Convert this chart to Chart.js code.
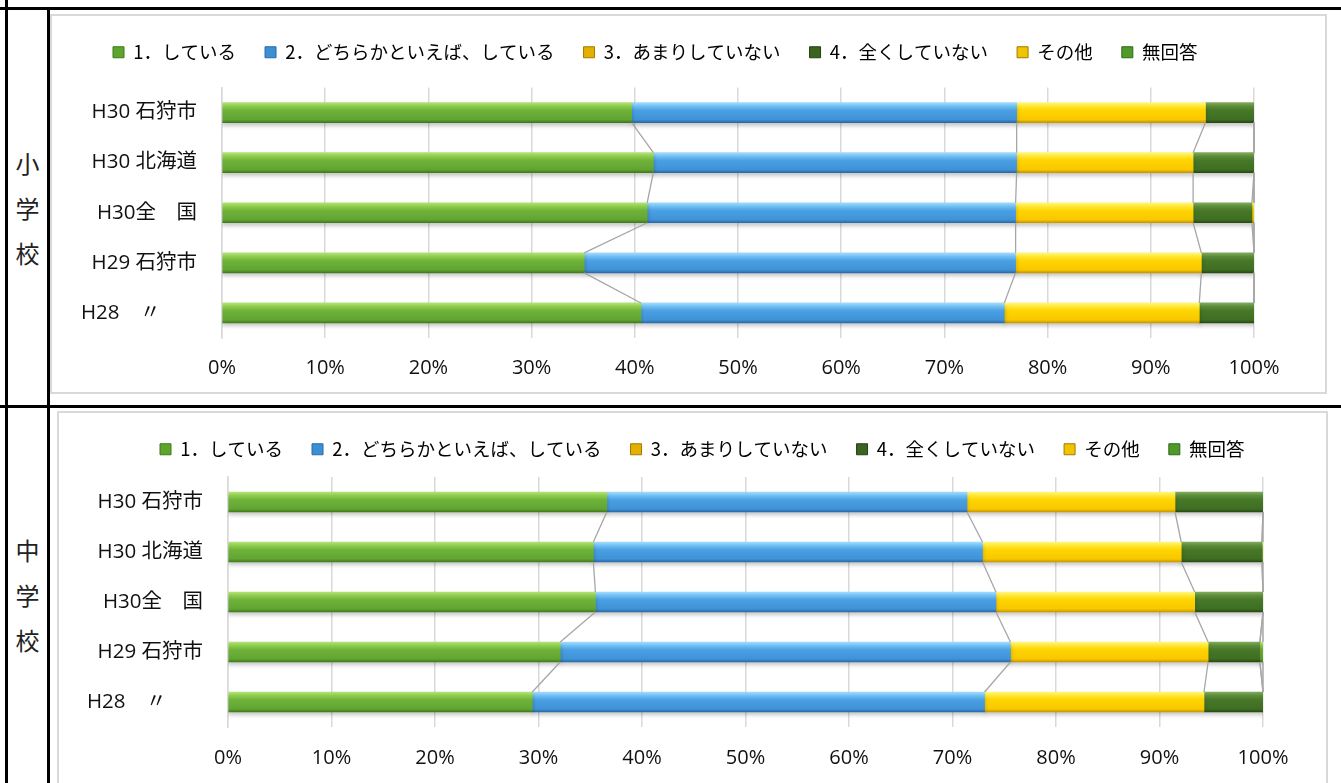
<!DOCTYPE html>
<html lang="ja">
<head>
<meta charset="utf-8">
<title>しているか</title>
<script src="https://cdn.jsdelivr.net/npm/chart.js@4.4.1/dist/chart.umd.min.js"></script>
<style>
  body { margin: 0; width: 1341px; height: 783px; overflow: hidden; background: #fff; position: relative;
         font-family: "Noto Sans CJK JP", sans-serif; }
  .line { position: absolute; background: #000; }
  .box { position: absolute; border: 2px solid #d9d9d9; box-sizing: border-box; }
  canvas { position: absolute; }
  .side { position: absolute; left: 8px; width: 39px; text-align: center; font-size: 24px; line-height: 45px; color: #222; }
</style>
</head>
<body>
<div class="line" style="left:0;top:7px;width:1341px;height:3px"></div>
<div class="line" style="left:0;top:405px;width:1341px;height:3px"></div>
<div class="line" style="left:5px;top:0;width:3px;height:783px"></div>
<div class="line" style="left:47px;top:8px;width:3px;height:775px"></div>

<div class="side" style="top:140px">小<br>学<br>校</div>
<div class="side" style="top:527px">中<br>学<br>校</div>

<div class="box" style="left:50px;top:14px;width:1277px;height:380px"></div>
<canvas id="shoChart" width="1278" height="385" style="left:49px;top:14px"></canvas>
<div class="box" style="left:57px;top:411px;width:1271px;height:380px"></div>
<canvas id="chuChart" width="1271" height="378" style="left:57px;top:411px"></canvas>

<script>
// 凡例
const seriesNames = ['1．している', '2．どちらかといえば、している', '3．あまりしていない', '4．全くしていない', 'その他', '無回答'];
// 縦軸
const rowLabels = ['H30 石狩市', 'H30 北海道', 'H30全　国', 'H29 石狩市', 'H28　〃　   '];

// 小学校 (%)
const shoShiteiru  = [39.7, 41.8, 41.2, 35.1, 40.6];
const shoDochiraka = [37.3, 35.2, 35.7, 41.8, 35.2];
const shoAmari     = [18.3, 17.1, 17.2, 18.0, 18.9];
const shoMattaku   = [4.7, 5.9, 5.7, 5.1, 5.3];
const shoSonota    = [0, 0, 0.2, 0, 0];
const shoMukaito   = [0, 0, 0, 0, 0];

// 中学校 (%)
const chuShiteiru  = [36.6, 35.3, 35.5, 32.1, 29.4];
const chuDochiraka = [34.8, 37.6, 38.7, 43.5, 43.7];
const chuAmari     = [20.1, 19.2, 19.2, 19.1, 21.2];
const chuMattaku   = [8.5, 7.8, 6.6, 5.0, 5.7];
const chuSonota    = [0, 0, 0, 0, 0];
const chuMukaito   = [0, 0.1, 0, 0.3, 0];

// 横軸
const xMin = 0, xMax = 100, xStep = 10;

// bar colours: top highlight, light, base, base, bottom edge
const bevels = [
  ['#b2e27a', '#8ecc4c', '#6eb23a', '#62a432', '#3f7a1c'],
  ['#a2dbfd', '#70bff4', '#4a9fe3', '#3f92d6', '#2a6aa8'],
  ['#fff680', '#ffe733', '#ffd400', '#f8c800', '#c99500'],
  ['#80ab5c', '#5c8c3a', '#467828', '#3f6e22', '#274a12'],
  ['#fff680', '#ffe733', '#ffd400', '#f8c800', '#c99500'],
  ['#b2e27a', '#8ecc4c', '#6eb23a', '#62a432', '#3f7a1c']
];
const legendFill = ['#5ea52e', '#3d8fd4', '#e4b000', '#3a6420', '#f0c400', '#4f9a2a'];
const legendEdge = ['#3d7a1a', '#2a6aa8', '#a07a00', '#243f12', '#a07a00', '#2f6a14'];
const labelFont = '"Open Sans", "Noto Sans CJK JP", sans-serif';

function bevelFill(stops) {
  return function (ctx) {
    const chart = ctx.chart;
    const ys = chart.scales.y;
    if (ctx.type !== 'data' || !chart.chartArea || !ys) return stops[2];
    const c = ys.getPixelForValue(ctx.dataIndex);
    const g = chart.ctx.createLinearGradient(0, c - 10, 0, c + 10);
    g.addColorStop(0, stops[0]);
    g.addColorStop(0.18, stops[1]);
    g.addColorStop(0.4, stops[2]);
    g.addColorStop(0.85, stops[3]);
    g.addColorStop(1, stops[4]);
    return g;
  };
}

// legend gap/shift + bar shadow + series lines
const barDecor = {
  id: 'barDecor',
  beforeLayout(chart, args, opts) {
    const lg = chart.legend;
    if (lg && !lg._gapPatched) {
      const fit = lg.fit;
      lg.fit = function () {
        this.maxWidth = chart.width;
        fit.call(this);
        this.height += opts.legendGap || 0;
      };
      lg._gapPatched = true;
    }
  },
  afterLayout(chart, args, opts) {
    const lg = chart.legend;
    if (lg && opts.legendShift) {
      lg.left += opts.legendShift;
      lg.right += opts.legendShift;
    }
  },
  beforeDatasetsDraw(chart) {
    const c = chart.ctx;
    c.save();
    c.shadowColor = 'rgba(0,0,0,0.22)';
    c.shadowBlur = 4;
    c.shadowOffsetY = 3;
  },
  afterDatasetsDraw(chart) {
    const c = chart.ctx;
    c.restore();
    c.save();
    c.strokeStyle = '#a6a6a6';
    c.lineWidth = 1.3;
    chart.data.datasets.forEach(function (ds, i) {
      const bars = chart.getDatasetMeta(i).data;
      for (let j = 0; j < bars.length - 1; j++) {
        const a = bars[j], b = bars[j + 1];
        c.beginPath();
        c.moveTo(a.x, a.y + a.height / 2);
        c.lineTo(b.x, b.y - b.height / 2);
        c.stroke();
      }
    });
    c.restore();
  }
};

function makeChart(id, series, lay) {
  const datasets = series.map(function (vals, i) {
    return {
      label: seriesNames[i],
      data: vals,
      backgroundColor: bevelFill(bevels[i]),
      borderWidth: 0,
      barThickness: 20
    };
  });
  return new Chart(document.getElementById(id), {
    type: 'bar',
    data: { labels: rowLabels, datasets: datasets },
    plugins: [barDecor],
    options: {
      indexAxis: 'y',
      responsive: false,
      animation: false,
      layout: { padding: { left: 0, right: lay.right, top: 0, bottom: 0 } },
      plugins: {
        tooltip: { enabled: false },
        barDecor: { legendGap: lay.gap, legendShift: lay.shift },
        legend: {
          position: 'top',
          align: 'start',
          labels: {
            boxWidth: 11,
            boxHeight: 11,
            padding: 29,
            color: '#222',
            font: { family: '"Noto Sans CJK JP", sans-serif', size: 18.5 },
            generateLabels: function (chart) {
              return chart.data.datasets.map(function (ds, i) {
                return { text: ds.label, fillStyle: legendFill[i], strokeStyle: legendEdge[i],
                         lineWidth: 1, hidden: false, datasetIndex: i };
              });
            }
          }
        }
      },
      scales: {
        x: {
          stacked: true,
          min: xMin,
          max: xMax,
          ticks: {
            stepSize: xStep,
            padding: lay.tickPad,
            color: '#111',
            font: { family: labelFont, size: 20 },
            callback: function (v) { return v + '%'; }
          },
          grid: { color: '#d9d9d9', lineWidth: 1.5, drawTicks: false },
          border: { display: false }
        },
        y: {
          stacked: true,
          ticks: {
            padding: 25,
            color: '#111',
            font: { family: labelFont, size: 20.5 }
          },
          grid: { display: false, drawTicks: false },
          border: { color: '#d9d9d9', width: 1.5 },
          afterFit: function (s) { s.width = lay.yWidth; }
        }
      }
    }
  });
}

makeChart('shoChart',
  [shoShiteiru, shoDochiraka, shoAmari, shoMattaku, shoSonota, shoMukaito],
  { right: 73, gap: 16, shift: 35, yWidth: 173, tickPad: 18.5 });
makeChart('chuChart',
  [chuShiteiru, chuDochiraka, chuAmari, chuMattaku, chuSonota, chuMukaito],
  { right: 65, gap: 8.5, shift: 74, yWidth: 171, tickPad: 19 });
</script>
</body>
</html>
